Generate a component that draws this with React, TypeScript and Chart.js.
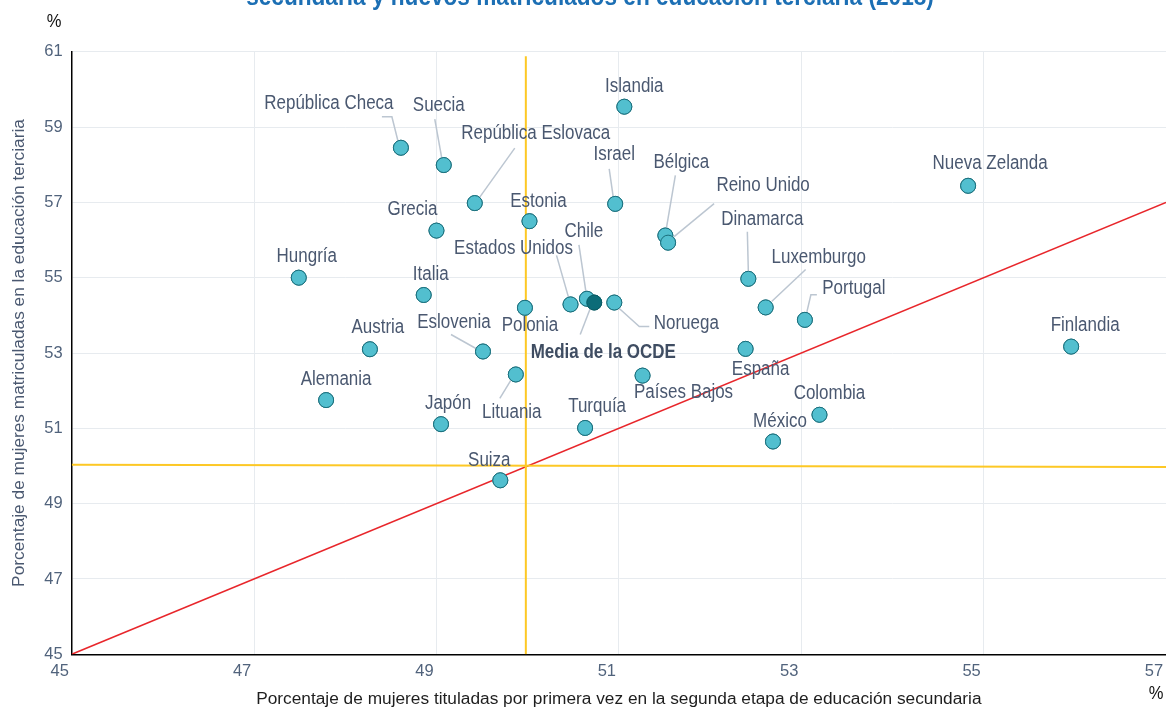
import React, { useEffect, useRef } from "react";
import { Chart, registerables } from "chart.js";

Chart.register(...registerables);

// ---------- data ----------
const countries = [
  "Islandia", "República Checa", "Suecia", "República Eslovaca", "Estonia", "Grecia",
  "Israel", "Bélgica", "Reino Unido", "Italia", "Polonia", "Estados Unidos", "Chile",
  "Noruega", "Dinamarca", "Luxemburgo", "Portugal", "Nueva Zelanda", "Finlandia",
  "España", "Hungría", "Austria", "Alemania", "Eslovenia", "Lituania", "Países Bajos",
  "Japón", "Turquía", "México", "Colombia", "Suiza",
];
const graduatesPct = [
  51.06, 48.61, 49.08, 49.42, 50.02, 49.0,
  50.96, 51.51, 51.54, 48.86, 49.97, 50.47, 50.65,
  50.95, 52.42, 52.61, 53.04, 54.83, 55.96,
  52.39, 47.49, 48.27, 47.79, 49.51, 49.87, 51.26,
  49.05, 50.63, 52.69, 53.2, 49.7,
];
const entrantsPct = [
  59.54, 58.45, 57.99, 56.98, 56.5, 56.25,
  56.96, 56.12, 55.93, 54.54, 54.2, 54.29, 54.44,
  54.34, 54.97, 54.21, 53.88, 57.44, 53.17,
  53.11, 55.0, 53.1, 51.75, 53.04, 52.43, 52.4,
  51.11, 51.01, 50.65, 51.36, 49.62,
];
const oecdName = "Media de la OCDE";
const oecdGraduates = [50.73];
const oecdEntrants = [54.34];

const diagonalX = [45, 57];
const diagonalY = [45, 57];
const verticalRefX = [49.98, 49.98];
const verticalRefY = [45, 60.88];
const horizontalRefX = [45, 57];
const horizontalRefY = [50.03, 49.97];

const xMin = 45, xMax = 57, yMin = 45, yMax = 61, tickStep = 2;

const titleLine = "secundaria y nuevos matriculados en educación terciaria (2018)";
const xAxisTitle = "Porcentaje de mujeres tituladas por primera vez en la segunda etapa de educación secundaria";
const yAxisTitle = "Porcentaje de mujeres matriculadas en la educación terciaria";
const unitMark = "%";

// ---------- label layout (pixel offsets from each marker) ----------
const labelOffsets: [number, number][] = [
  [10, -20], [-72, -44], [-5, -59], [61, -69], [9, -20], [-24, -21],
  [-1, -49], [16, -73], [95, -57], [7, -20], [5, 18], [-57, -56], [-3, -67],
  [72, 21], [14, -59], [53, -50], [49, -31], [22, -22], [14, -21],
  [15, 21], [8, -21], [8, -22], [10, -20], [-29, -29], [-4, 38], [41, 17],
  [7, -21], [12, -21], [7, -20], [10, -21], [-11, -20],
];
const leaderPaths: ([number, number][] | null)[] = [
  null, [[-19, -31], [-9, -31], [-3, -7]], [[-9, -46], [-2, -7]], [[40, -55], [5, -6]], null, null,
  [[-6, -35], [-2, -7]], [[10, -60], [1, -7]], [[46, -39], [6, -6]], null, null, [[-14, -49], [-2, -7]], [[-8, -54], [-1, -7]],
  [[5, 6], [25, 24], [35, 24]], [[-1, -47], [0, -7]], [[40, -38], [6, -6]], [[12, -25], [6, -25], [2, -8]], null, null,
  null, null, null, null, [[-32, -17], [-7, -3]], [[-16, 24], [-5, 6]], null,
  null, null, null, null, null,
];
const oecdLabelOffset: [number, number] = [9, 50];
const oecdLeader: [number, number][] = [[-4, 6], [-14, 32]];

const FF = "'Liberation Sans', Arial, sans-serif";
const NARROW = 0.87;

function condensedText(ctx: CanvasRenderingContext2D, text: string, x: number, y: number, sx = NARROW) {
  ctx.save();
  ctx.translate(x, y);
  ctx.scale(sx, 1);
  ctx.fillText(text, 0, 0);
  ctx.restore();
}

const labelPlugin = {
  id: "pointLabels",
  afterDatasetsDraw(chart: any) {
    const ctx = chart.ctx;
    const meta = chart.getDatasetMeta(0);
    const oecdMeta = chart.getDatasetMeta(1);
    ctx.save();
    ctx.strokeStyle = "#bcc6d1";
    ctx.lineWidth = 1.5;
    const drawLeader = (x: number, y: number, path: [number, number][]) => {
      ctx.beginPath();
      path.forEach(([dx, dy], i) => {
        if (i === 0) ctx.moveTo(x + dx, y + dy);
        else ctx.lineTo(x + dx, y + dy);
      });
      ctx.stroke();
    };
    meta.data.forEach((pt: any, i: number) => {
      const p = leaderPaths[i];
      if (p) drawLeader(pt.x, pt.y, p);
    });
    const op = oecdMeta.data[0];
    drawLeader(op.x, op.y, oecdLeader);
    ctx.restore();
    ctx.save();
    // markers above the leader lines
    meta.data.forEach((pt: any) => pt.draw(ctx));
    op.draw(ctx);
    ctx.textAlign = "center";
    ctx.textBaseline = "middle";
    ctx.font = `19.5px ${FF}`;
    ctx.fillStyle = "#4a5870";
    meta.data.forEach((pt: any, i: number) => {
      const [dx, dy] = labelOffsets[i];
      condensedText(ctx, countries[i], pt.x + dx, pt.y + dy);
    });
    ctx.font = `bold 19.5px ${FF}`;
    ctx.fillStyle = "#3f4d62";
    condensedText(ctx, oecdName, op.x + oecdLabelOffset[0], op.y + oecdLabelOffset[1]);
    // unit marks
    ctx.fillStyle = "#111";
    ctx.font = `19px ${FF}`;
    condensedText(ctx, unitMark, 54, 22);
    condensedText(ctx, unitMark, 1156, 694);
    // clipped title line
    ctx.font = `bold 26px ${FF}`;
    ctx.fillStyle = "#1c6fb4";
    ctx.textBaseline = "alphabetic";
    condensedText(ctx, titleLine, 590, 5);
    ctx.restore();
  },
};

export default function App() {
  const ref = useRef<HTMLCanvasElement | null>(null);
  useEffect(() => {
    if (!ref.current) return;
    const points = graduatesPct.map((x, i) => ({ x, y: entrantsPct[i] }));
    const oecd = oecdGraduates.map((x, i) => ({ x, y: oecdEntrants[i] }));
    const toXY = (xs: number[], ys: number[]) => xs.map((x, i) => ({ x, y: ys[i] }));
    const chart = new Chart(ref.current, {
      type: "scatter",
      data: {
        datasets: [
          {
            label: "Países",
            data: points,
            pointRadius: 7.5,
            pointBackgroundColor: "#52bfcf",
            pointBorderColor: "#1b6f7c",
            pointBorderWidth: 1,
            order: 1,
          },
          {
            label: oecdName,
            data: oecd,
            pointRadius: 7.5,
            pointBackgroundColor: "#0c6c78",
            pointBorderColor: "#095a63",
            pointBorderWidth: 1,
            order: 0,
          },
          {
            label: "Diagonal",
            data: toXY(diagonalX, diagonalY),
            showLine: true,
            pointRadius: 0,
            borderColor: "#e8262b",
            borderWidth: 1.5,
            order: 5,
          },
          {
            label: "Media eje x",
            data: toXY(verticalRefX, verticalRefY),
            showLine: true,
            pointRadius: 0,
            borderColor: "#fdc825",
            borderWidth: 2,
            order: 4,
          },
          {
            label: "Media eje y",
            data: toXY(horizontalRefX, horizontalRefY),
            showLine: true,
            pointRadius: 0,
            borderColor: "#fdc825",
            borderWidth: 2,
            order: 3,
          },
        ],
      },
      options: {
        animation: false,
        responsive: true,
        maintainAspectRatio: false,
        events: [],
        layout: { autoPadding: false, padding: { left: 0, right: 0, top: 51.7, bottom: 0 } },
        plugins: {
          legend: { display: false },
          tooltip: { enabled: false },
          title: { display: false },
        },
        scales: {
          x: {
            type: "linear",
            min: xMin,
            max: xMax,
            afterFit: (s: any) => {
              s.height = 56.7;
              s.paddingLeft = 0;
              s.paddingRight = 0;
            },
            ticks: {
              stepSize: tickStep,
              padding: 7,
              labelOffset: -12,
              color: "#51637c",
              font: { family: FF, size: 16.5 },
            },
            grid: { color: "#e7ebef", lineWidth: 1, drawTicks: false },
            border: { display: true, color: "#000", width: 1.5 },
            title: {
              display: true,
              text: xAxisTitle,
              color: "#1e1e1e",
              font: { family: FF, size: 17.3 },
              padding: { top: 0, bottom: 1 },
            },
          },
          y: {
            type: "linear",
            min: yMin,
            max: yMax,
            afterFit: (s: any) => {
              s.width = 71.7;
              s.paddingTop = 0;
              s.paddingBottom = 0;
            },
            ticks: {
              stepSize: tickStep,
              padding: 9,
              color: "#51637c",
              font: { family: FF, size: 16.5 },
            },
            grid: { color: "#e7ebef", lineWidth: 1, drawTicks: false },
            border: { display: true, color: "#000", width: 1.5 },
            title: {
              display: true,
              text: yAxisTitle,
              color: "#4a5870",
              font: { family: FF, size: 17.3 },
              padding: { top: 9, bottom: 0 },
            },
          },
        },
      },
      plugins: [labelPlugin],
    } as any);
    return () => chart.destroy();
  }, []);
  return (
    <div style={{ position: "fixed", left: 0, top: 0, width: 1166, height: 711 }}>
      <canvas ref={ref} />
    </div>
  );
}
